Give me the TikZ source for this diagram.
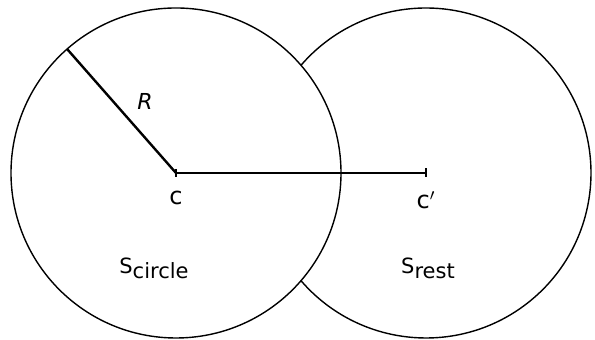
\documentclass[tikz,border=0pt]{standalone}
\usepackage{fontspec}
\setsansfont{DejaVu Sans}
\usetikzlibrary{positioning,calc}
\tikzset{
  rim/.style={line width=0.7pt},
  rod/.style={line width=0.65pt},
  radius line/.style={line width=1.2pt},
  lettering/.style={font=\sffamily\fontsize{10.5}{12}\selectfont, inner sep=0pt},
  centre label/.style={font=\sffamily\fontsize{12}{14}\selectfont, inner sep=0pt}
}
\newcommand{\lowsub}[1]{\raisebox{-0.45ex}{#1}}

\begin{document}
\begin{tikzpicture}[x=0.5pt,y=0.5pt]
    \useasboundingbox (0,0) rectangle (595,340);
    % Centres
    \coordinate (C) at (176,167);
    \coordinate (Cp) at (426,167);
    \coordinate (Rend) at ($(C)+(131.3:165)$);
    % Circle around c
    \draw[rim] (C) circle (165);
    % Rest of the second circle
    \draw[rim] ($(Cp)+(-139.25:165)$) arc[start angle=-139.25, end angle=139.25, radius=165];
    % Radius
    \draw[radius line] (C) -- (Rend);
    \node[lettering, font=\sffamily\itshape\fontsize{11}{13}\selectfont] (Rlab) at (145,239) {R};
    % Centre line with end ticks
    \draw[rod] (C) -- (Cp);
    \draw[rod] ($(C)+(0,4)$) -- ($(C)+(0,-4)$);
    \draw[rod] ($(Cp)+(0,4.5)$) -- ($(Cp)+(0,-4.5)$);
    \node[centre label, below=9pt of C] (clab) {c};
    \node[centre label, below=9pt of Cp] (cplab) {c$'$};
    % Regions
    \node[lettering] (Scircle) at (154,72) {S\lowsub{circle}};
    \node[lettering] (Srest) at (428,72) {S\lowsub{rest}};
  \end{tikzpicture}
\end{document}
